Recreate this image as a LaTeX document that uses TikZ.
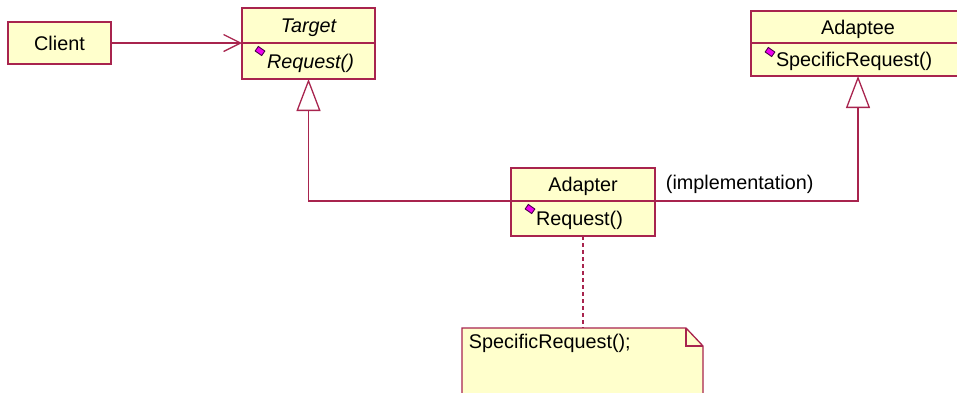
\documentclass[tikz,border=0pt]{standalone}
\usepackage{fontspec}
\setmainfont{Liberation Sans}
\usetikzlibrary{positioning,arrows.meta}
\definecolor{umlred}{RGB}{168,36,78}
\definecolor{umlfill}{RGB}{255,255,204}
\definecolor{umlpink}{RGB}{240,0,240}
\begin{document}
\begin{tikzpicture}[x=1pt, y=1pt, line width=1.3pt,
		every node/.style={font=\fontsize{19.8}{23}\selectfont},
		class node/.style={rectangle,draw=umlred,fill=umlfill,outer sep=0pt,inner sep=0pt,text depth=0pt},
		ops node/.style={class node,align=left,inner xsep=25pt,text width=#1},
		op mark/.style={draw=umlpink!30!black,fill=umlpink,line width=0.9pt,minimum width=8pt,minimum height=5.5pt,inner sep=0pt,rotate=-35},
		inherit/.style={draw=umlred,-{Triangle[open,length=32pt,width=24pt]}},
		uses/.style={draw=umlred,-{Straight Barb[length=17pt,width=17pt]}}]
	
	\useasboundingbox (0,0) rectangle (957,-392);
	
	\node[class node, minimum width=103pt, minimum height=42pt] (client) at (59.5,-43) {Client};
	
	\node[class node, minimum width=133pt, minimum height=35pt, font=\fontsize{19.8}{23}\selectfont\itshape] (target) at (308.5,-25.5) {Target};
	\node[ops node=83pt, minimum height=36pt, font=\fontsize{19.8}{23}\selectfont\itshape] (targetops) [below=0pt of target] {Request()};
	
	\node[class node, minimum width=214pt, minimum height=32pt] (adaptee) at (858,-27) {Adaptee};
	\node[ops node=164pt, minimum height=33pt] (adapteeops) [below=0pt of adaptee] {SpecificRequest()};
	
	\node[class node, minimum width=144pt, minimum height=33pt] (adapter) at (583,-184.5) {Adapter};
	\node[ops node=94pt, minimum height=35pt] (adapterops) [below=0pt of adapter] {Request()};
	
	% operation marks
	\node[op mark] (m1) at ([shift={(18pt,-8pt)}]targetops.north west) {};
	\node[op mark] (m2) at ([shift={(19pt,-9pt)}]adapteeops.north west) {};
	\node[op mark] (m3) at ([shift={(19pt,-8pt)}]adapterops.north west) {};
	
	\draw[uses] (client.east) -- (target.south west);
	\fill[umlred] (target.south west) circle (1.5pt);
	
	\draw[inherit] (adapterops.north west) -| (targetops.south);
	\draw[inherit] (adapterops.north east) -| (adapteeops.south);
	\node[anchor=west] (impl) at (662,-184) {(implementation)};
	
	% note
	\node[minimum width=241pt, minimum height=72pt, inner sep=0pt, outer sep=0pt] (note) at (582.5,-364) {};
	\filldraw[draw=umlred, fill=umlfill] (note.south west) -- (note.north west) -- ([xshift=-17pt]note.north east)
		-- ([yshift=-18pt]note.north east) -- (note.south east) -- cycle;
	\draw[umlred] ([xshift=-17pt]note.north east) |- ([yshift=-18pt]note.north east);
	\node[anchor=west] (notetext) at ([shift={(3pt,-15pt)}]note.north west) {SpecificRequest();};
	\draw[umlred, dash pattern=on 4pt off 3pt] (adapterops.south) -- (adapterops.south |- note.north);
	
\end{tikzpicture}
\end{document}
